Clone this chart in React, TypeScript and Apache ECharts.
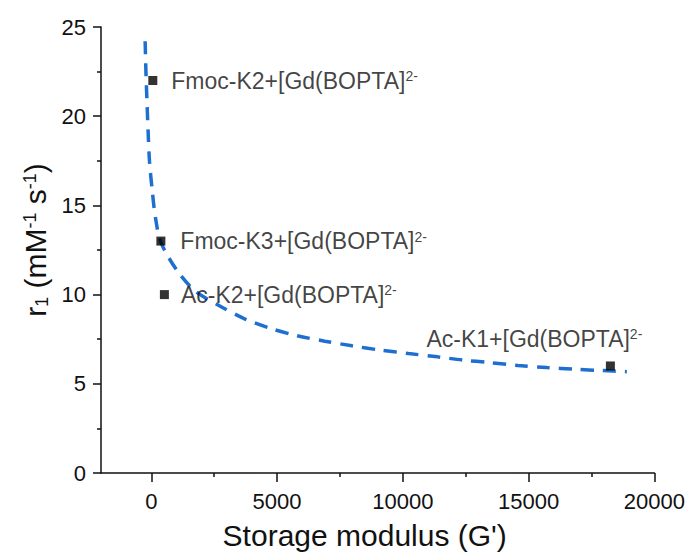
import React, { useEffect, useRef } from "react";
import * as echarts from "echarts";

// Measured points
const sampleNames = [
  "Fmoc-K2+[Gd(BOPTA]",
  "Fmoc-K3+[Gd(BOPTA]",
  "Ac-K2+[Gd(BOPTA]",
  "Ac-K1+[Gd(BOPTA]",
];
const sampleCharge = ["2-", "2-", "2-", "2-"];
const storageModulus = [60, 380, 520, 18250];
const relaxivity = [22, 13, 10, 6];

// Dashed fit curve
const fitX = [
  -245, -210, -166, -126, -71, 32, 166, 388, 1049, 1750, 2739, 3729, 4750, 5800,
  6897, 7977, 9098, 10222, 11382, 12380, 13450, 14576, 15715, 16825, 17947, 18903,
];
const fitY = [
  24.2, 22.3, 20.6, 19.1, 17.45, 15.9, 14.3, 12.9, 11.3, 10.2, 9.35, 8.63, 8.1, 7.69,
  7.39, 7.13, 6.89, 6.7, 6.51, 6.33, 6.19, 6.03, 5.91, 5.82, 5.74, 5.68,
];

const xTicks = [0, 5000, 10000, 15000, 20000];
const yTicks = [0, 5, 10, 15, 20, 25];

const FONT = "'Liberation Sans', Arial, Helvetica, sans-serif";
const TXT = "#111111";

export default function App() {
  const ref = useRef<HTMLDivElement>(null);
  useEffect(() => {
    if (!ref.current) return;
    const chart = echarts.init(ref.current, null, { renderer: "svg" });

    const labelCfg = [
      { position: "right", distance: 14 },
      { position: "right", distance: 15 },
      { position: "right", distance: 12 },
      { position: "top", distance: 5, offset: [-76, -6] },
    ];

    const scatterData = storageModulus.map((x, i) => ({
      value: [x, relaxivity[i]],
      name: sampleNames[i],
      label: {
        show: true,
        ...labelCfg[i],
        formatter: () => `{a|${sampleNames[i]}}{s|${sampleCharge[i]}}`,
        rich: {
          a: { fontSize: 23, fontFamily: FONT, color: TXT },
          s: { fontSize: 14, fontFamily: FONT, color: TXT, verticalAlign: "top" },
        },
      },
    }));

    chart.setOption({
      animation: false,
      backgroundColor: "#ffffff",
      grid: { left: 101, right: 32, top: 27, bottom: 85, containLabel: false },
      xAxis: {
        type: "value",
        min: -2000,
        max: 20000,
        name: "Storage modulus (G')",
        nameLocation: "middle",
        nameGap: 47,
        nameTextStyle: {
          fontSize: 30,
          fontFamily: FONT,
          color: TXT,
          padding: [0, 26, 0, 0],
        },
        axisLine: { show: true, onZero: false, lineStyle: { color: TXT, width: 1.5 } },
        axisTick: {
          show: true,
          inside: false,
          length: 9,
          lineStyle: { color: TXT, width: 1.5 },
          customValues: xTicks,
        },
        minorTick: { show: true, splitNumber: 2, length: 4, lineStyle: { color: TXT, width: 1.5 } },
        axisLabel: {
          fontSize: 22,
          fontFamily: FONT,
          color: TXT,
          margin: 17,
          customValues: xTicks,
          formatter: (v: number) => String(v),
        },
        splitLine: { show: false },
        minorSplitLine: { show: false },
      },
      yAxis: {
        type: "value",
        min: 0,
        max: 25,
        interval: 5,
        name: "{a|r}{sub|1}{a| (mM}{sup|-1}{a| s}{sup|-1}{a|)}",
        nameLocation: "middle",
        nameRotate: 90,
        nameGap: 50,
        nameTextStyle: {
          padding: [0, 0, 0, 20],
          rich: {
            a: { fontSize: 30, fontFamily: FONT, color: TXT },
            sub: { fontSize: 18, fontFamily: FONT, color: TXT, verticalAlign: "bottom" },
            sup: { fontSize: 18, fontFamily: FONT, color: TXT, verticalAlign: "top" },
          },
        },
        axisLine: { show: true, onZero: false, lineStyle: { color: TXT, width: 1.5 } },
        axisTick: {
          show: true,
          inside: false,
          length: 8,
          lineStyle: { color: TXT, width: 1.5 },
          customValues: yTicks,
        },
        minorTick: { show: true, splitNumber: 2, length: 4, lineStyle: { color: TXT, width: 1.5 } },
        axisLabel: {
          fontSize: 22,
          fontFamily: FONT,
          color: TXT,
          margin: 15,
          customValues: yTicks,
        },
        splitLine: { show: false },
        minorSplitLine: { show: false },
      },
      series: [
        {
          type: "line",
          data: fitX.map((x, i) => [x, fitY[i]]),
          smooth: 0.3,
          showSymbol: false,
          symbol: "none",
          lineStyle: { color: "#1f6fd1", width: 3.5, type: [13, 9], cap: "butt" },
          z: 2,
        },
        {
          type: "scatter",
          data: scatterData,
          symbol: "rect",
          symbolSize: 9,
          itemStyle: { color: "#000000" },
          z: 3,
        },
      ],
    });
    return () => chart.dispose();
  }, []);

  return (
    <div
      ref={ref}
      style={{ position: "fixed", left: 0, top: 0, width: 688, height: 558, background: "#fff" }}
    />
  );
}
